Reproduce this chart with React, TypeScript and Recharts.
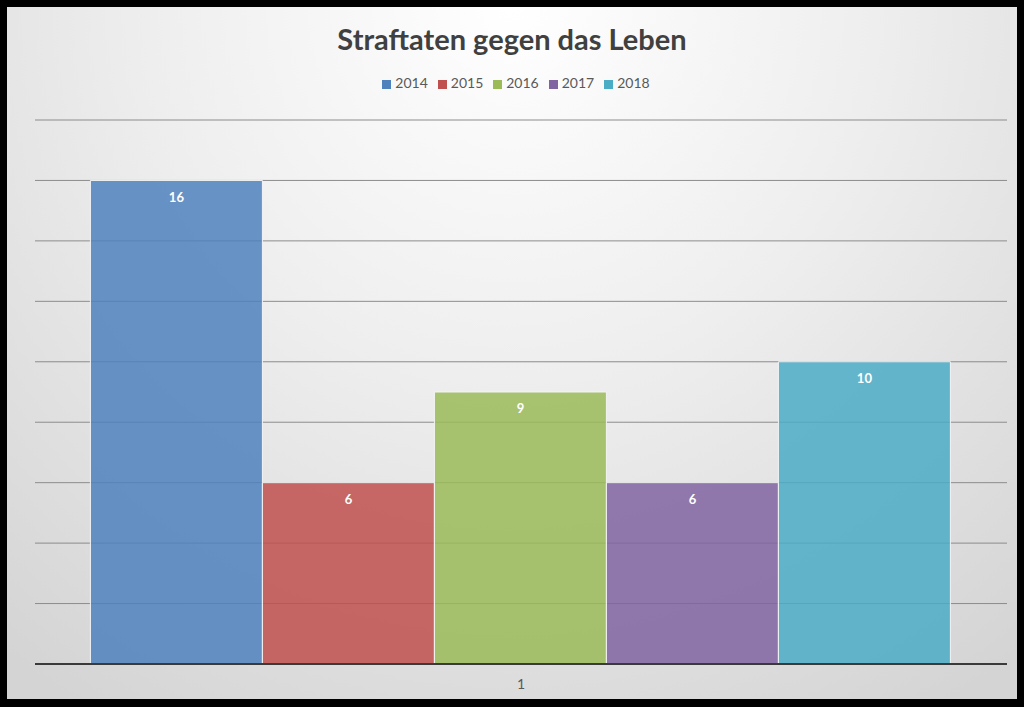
import React from 'react';
import { BarChart, Bar, XAxis, YAxis, CartesianGrid, Legend, LabelList } from 'recharts';

const categories = ['1'];
const years = ['2014', '2015', '2016', '2017', '2018'];
const counts = [16, 6, 9, 6, 10];
const yTicks = [0, 2, 4, 6, 8, 10, 12, 14, 16, 18];

const COLORS = ['#4f81bd', '#c0504d', '#9bbb59', '#8064a2', '#4bacc6'];

const data = categories.map((cat) => {
  const row: { [key: string]: string | number } = { name: cat };
  years.forEach((y, i) => {
    row[y] = counts[i];
  });
  return row;
});

const FONT = 'Lato, "Open Sans", sans-serif';

const App: React.FC = () => {
  return (
    <div style={{ position: 'absolute', left: 0, top: 0, width: 1024, height: 707, background: '#000' }}>
      <div
        style={{
          position: 'absolute',
          left: 7,
          top: 7,
          width: 1010,
          height: 692,
          background: 'radial-gradient(ellipse 80% 120% at 50% 0%, #ffffff 0%, #eeeeee 45%, #d4d4d4 100%)',
          fontFamily: FONT,
        }}
      >
        <div
          style={{
            position: 'absolute',
            top: 14,
            width: '100%',
            textAlign: 'center',
            fontSize: 29,
            fontWeight: 700,
            color: '#404040',
          }}
        >
          Straftaten gegen das Leben
        </div>
        <BarChart
          width={1010}
          height={692}
          data={data}
          margin={{ top: 96, right: 10, bottom: 5, left: 28 }}
          barCategoryGap="5.7%"
          barGap={0}
        >
          <CartesianGrid vertical={false} stroke="#8c8c8c" />
          <YAxis hide domain={[0, 18]} ticks={yTicks} />
          <XAxis
            dataKey="name"
            height={30}
            tickLine={false}
            axisLine={{ stroke: '#3a3a3a', strokeWidth: 2 }}
            tick={{ fill: '#595959', fontSize: 14, fontFamily: FONT, dy: 7 }}
          />
          <Legend
            verticalAlign="top"
            align="center"
            iconType="square"
            iconSize={9}
            wrapperStyle={{ top: 67, fontSize: 14, fontFamily: FONT }}
            formatter={(value) => <span style={{ color: '#595959' }}>{value}</span>}
          />
          {years.map((y, i) => (
            <Bar
              key={y}
              dataKey={y}
              fill={COLORS[i]}
              fillOpacity={0.85}
              stroke="#f4f4f4"
              strokeWidth={1}
              isAnimationActive={false}
            >
              <LabelList
                dataKey={y}
                position="insideTop"
                offset={12}
                fill="#ffffff"
                fontSize={13}
                fontWeight={700}
                fontFamily={FONT}
              />
            </Bar>
          ))}
        </BarChart>
      </div>
    </div>
  );
};

export default App;
